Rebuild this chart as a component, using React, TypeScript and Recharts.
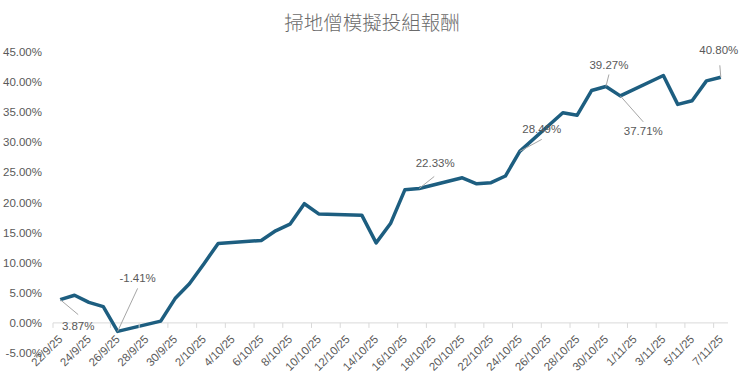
import { LabelList, Line, LineChart, ReferenceLine, XAxis, YAxis } from 'recharts'

// trading days and cumulative return (%)
const dates = [
  '2025-09-22', '2025-09-23', '2025-09-24', '2025-09-25', '2025-09-26',
  '2025-09-29', '2025-09-30', '2025-10-01', '2025-10-02', '2025-10-03',
  '2025-10-06', '2025-10-07', '2025-10-08', '2025-10-09', '2025-10-10',
  '2025-10-13', '2025-10-14', '2025-10-15', '2025-10-16', '2025-10-17',
  '2025-10-20', '2025-10-21', '2025-10-22', '2025-10-23', '2025-10-24',
  '2025-10-27', '2025-10-28', '2025-10-29', '2025-10-30', '2025-10-31',
  '2025-11-03', '2025-11-04', '2025-11-05', '2025-11-06', '2025-11-07'
]
const returns = [
  3.87, 4.6, 3.4, 2.7, -1.41,
  0.3, 4.04, 6.5, 9.8, 13.2,
  13.7, 15.3, 16.4, 19.8, 18.1,
  17.9, 13.3, 16.5, 22.1, 22.33,
  24.1, 23.1, 23.3, 24.4, 28.49,
  34.9, 34.5, 38.6, 39.27, 37.71,
  41.1, 36.3, 36.9, 40.2, 40.8
]
const yTicks = [-5, 0, 5, 10, 15, 20, 25, 30, 35, 40, 45]
const calloutDates = ['2025-09-22', '2025-09-26', '2025-10-17', '2025-10-24', '2025-10-30', '2025-10-31', '2025-11-07']

const TITLE = '掃地僧模擬投組報酬'

// callout placement (text centre + leader end, relative to the point)
const calloutOffsets: Record<string, { tx: number; ty: number; lx: number; ly: number }> = {
  '2025-09-22': { tx: 18, ty: 26, lx: 18, ly: 15 },
  '2025-09-26': { tx: 20, ty: -53, lx: 20, ly: -43 },
  '2025-10-17': { tx: 16, ty: -25, lx: 15, ly: -12 },
  '2025-10-24': { tx: 22, ty: -22, lx: 22, ly: -12 },
  '2025-10-30': { tx: 3, ty: -22, lx: 3, ly: -12 },
  '2025-10-31': { tx: 23, ty: 35, lx: 23, ly: 26 },
  '2025-11-07': { tx: -2, ty: -27, lx: -1, ly: -12 }
}

const DAY = 86400000
const startMs = Date.parse(dates[0])
const dayOf = (d: string) => Math.round((Date.parse(d) - startMs) / DAY)
const lastDay = dayOf(dates[dates.length - 1])

const data = dates.map((d, i) => ({ date: d, day: dayOf(d), v: returns[i] }))
const xTicks: number[] = []
for (let d = 0; d <= lastDay; d += 2) xTicks.push(d)

function dayLabel(day: number): string {
  const dt = new Date(startMs + day * DAY)
  return `${dt.getUTCDate()}/${dt.getUTCMonth() + 1}/${String(dt.getUTCFullYear()).slice(2)}`
}

const W = 740
const H = 378
const M_TOP = 52
const M_RIGHT = 12
const Y_AXIS_W = 53
const X_AXIS_H = 25
const Y_MIN = -5
const Y_MAX = 45
const X_MIN = -0.5
const X_MAX = lastDay + 0.5

const plotBottom = H - X_AXIS_H
const zeroY = M_TOP + ((plotBottom - M_TOP) * (Y_MAX - 0)) / (Y_MAX - Y_MIN)
const pxPerDay = (W - Y_AXIS_W - M_RIGHT) / (X_MAX - X_MIN)

const FONT = '"Liberation Sans", Arial, sans-serif'
const TEXT = '#595959'
const LINE = '#1d5e80'

function DateTick(props: any) {
  const { x, payload } = props
  const tx = x + 3
  const ty = zeroY + 17
  return (
    <g>
      <line x1={x - pxPerDay / 2} x2={x - pxPerDay / 2} y1={zeroY} y2={zeroY + 5} stroke="#d9d9d9" />
      <text
        x={tx}
        y={ty}
        textAnchor="end"
        transform={`rotate(-45, ${tx}, ${ty})`}
        fill={TEXT}
        fontSize={11.5}
        fontFamily={FONT}
      >
        {dayLabel(payload.value)}
      </text>
    </g>
  )
}

function Callout(props: any) {
  const { x, y, index, value } = props
  const date = dates[index]
  if (!calloutDates.includes(date)) return null
  const o = calloutOffsets[date]
  return (
    <g>
      <line x1={x} y1={y} x2={x + o.lx} y2={y + o.ly} stroke="#a6a6a6" strokeWidth={1} />
      <text
        x={x + o.tx}
        y={y + o.ty}
        dy="0.35em"
        textAnchor="middle"
        fill={TEXT}
        fontSize={11.5}
        fontFamily={FONT}
      >
        {`${Number(value).toFixed(2)}%`}
      </text>
    </g>
  )
}

export default function App() {
  return (
    <div style={{ position: 'absolute', left: 0, top: 0, width: W, height: H, background: '#fff' }}>
      <div
        style={{
          position: 'absolute',
          left: 0,
          width: W,
          top: 11,
          textAlign: 'center',
          fontFamily: '"Noto Sans CJK TC", sans-serif',
          fontSize: 19.5,
          lineHeight: '22px',
          color: '#6b6b6b',
          fontWeight: 300,
          paddingLeft: 2
        }}
      >
        {TITLE}
      </div>
      <LineChart width={W} height={H} data={data} margin={{ top: M_TOP, right: M_RIGHT, bottom: 0, left: 0 }}>
        <XAxis
          dataKey="day"
          type="number"
          domain={[X_MIN, X_MAX]}
          ticks={xTicks}
          interval={0}
          height={X_AXIS_H}
          axisLine={false}
          tickLine={false}
          tick={<DateTick />}
        />
        <YAxis
          type="number"
          domain={[Y_MIN, Y_MAX]}
          ticks={yTicks}
          width={Y_AXIS_W}
          axisLine={false}
          tickLine={false}
          tickMargin={5}
          tick={{ fill: TEXT, fontSize: 11.5, fontFamily: FONT }}
          tickFormatter={(v: number) => `${v.toFixed(2)}%`}
        />
        <ReferenceLine y={0} stroke="#d9d9d9" strokeWidth={1} />
        <Line
          type="linear"
          dataKey="v"
          stroke={LINE}
          strokeWidth={3.5}
          strokeLinejoin="round"
          dot={false}
          isAnimationActive={false}
        >
          <LabelList dataKey="v" content={<Callout />} />
        </Line>
      </LineChart>
    </div>
  )
}
